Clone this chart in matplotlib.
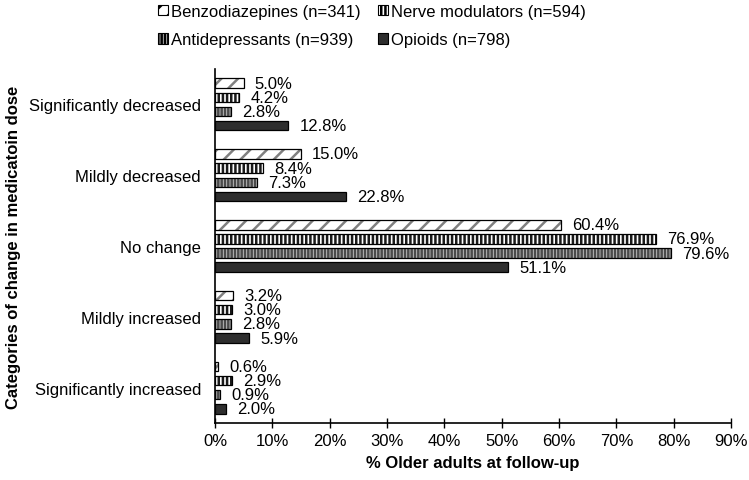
import matplotlib
matplotlib.use("Agg")
import matplotlib.pyplot as plt
from matplotlib.patches import Patch
import numpy as np

plt.rcParams['font.family'] = ['Liberation Sans', 'DejaVu Sans']
plt.rcParams['hatch.linewidth'] = 1.8

categories = ["Significantly decreased", "Mildly decreased", "No change",
              "Mildly increased", "Significantly increased"]
series_names = ["Benzodiazepines (n=341)", "Nerve modulators (n=594)",
                "Antidepressants (n=939)", "Opioids (n=798)"]
benzo = [5.0, 15.0, 60.4, 3.2, 0.6]
nerve = [4.2, 8.4, 76.9, 3.0, 2.9]
anti = [2.8, 7.3, 79.6, 2.8, 0.9]
opioids = [12.8, 22.8, 51.1, 5.9, 2.0]
xticks = [0, 10, 20, 30, 40, 50, 60, 70, 80, 90]

series = [benzo, nerve, anti, opioids]
styles = [
    dict(face='white', hatch='//', hcolor='#808080'),
    dict(face='white', hatch='||||', hcolor='#1a1a1a'),
    dict(face='#c8c8c8', hatch='|||||', hcolor='#4a4a4a'),
    dict(face='#2e2e2e', hatch=None, hcolor='#2e2e2e'),
]

FS = 12
fig = plt.figure(figsize=(7.49, 4.81), dpi=100)
ax = fig.add_axes([215/749, (481-424)/481, (731-215)/749, (424-70)/481])

y = np.arange(len(categories))
step = 0.2
h = 0.135
for j, (vals, st) in enumerate(zip(series, styles)):
    pos = y + (j - 1.5) * step
    ax.barh(pos, vals, height=h, color=st['face'], hatch=st['hatch'],
            edgecolor=st['hcolor'], linewidth=0, zorder=2)
    ax.barh(pos, vals, height=h, facecolor='none', edgecolor='black',
            linewidth=0.9, zorder=3)
    for p, v in zip(pos, vals):
        ax.annotate(f"{v:.1f}%", xy=(v, p), xytext=(8, 0),
                    textcoords='offset points', va='center', ha='left',
                    fontsize=FS, color='black')

ax.set_ylim(len(categories) - 0.5, -0.5)
ax.set_xlim(0, 90)
ax.set_yticks(y)
ax.set_yticklabels(categories, fontsize=FS)
ax.set_xticks(xticks)
ax.set_xticklabels([f"{t}%" for t in xticks], fontsize=FS)
ax.tick_params(axis='y', length=0, pad=10)
ax.tick_params(axis='x', direction='inout', length=7, width=1, pad=4)
for s in ['top', 'right']:
    ax.spines[s].set_visible(False)
for s in ['left', 'bottom']:
    ax.spines[s].set_linewidth(1.2)

ax.set_xlabel("% Older adults at follow-up", fontsize=FS, fontweight='bold', labelpad=5)
ax.set_ylabel("Categories of change in medicatoin dose", fontsize=FS,
              fontweight='bold', labelpad=6)

handles = []
for st in styles:
    handles.append(Patch(facecolor=st['face'], hatch=st['hatch'], edgecolor='black', linewidth=0.8))
order = [0, 2, 1, 3]
fig.legend([handles[i] for i in order], [series_names[i] for i in order],
           ncol=2, loc='upper left', bbox_to_anchor=(158/749, 1 - 5/481),
           frameon=False, fontsize=FS, handlelength=0.6, handleheight=0.6,
           handletextpad=0.2, columnspacing=1.0, labelspacing=0.8,
           borderpad=0, borderaxespad=0)

fig.savefig("out.png", dpi=100)
